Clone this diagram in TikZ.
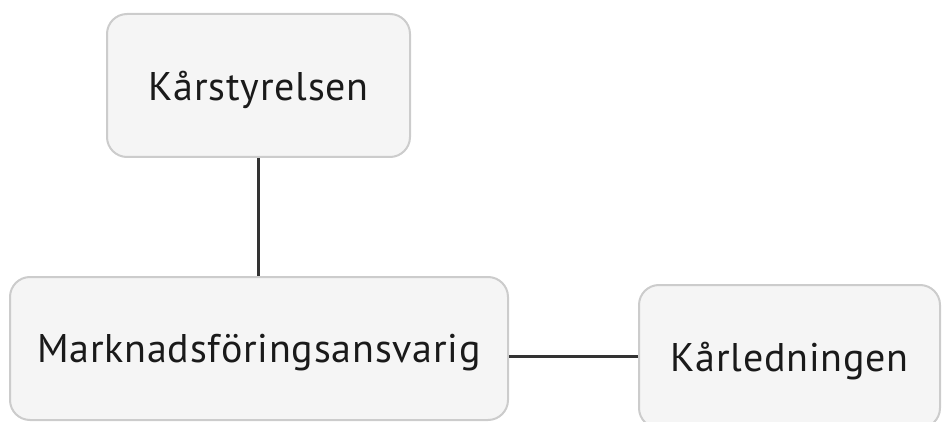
\documentclass[tikz,border=0pt]{standalone}
\usepackage{fontspec}
\setmainfont{PT Sans}[LetterSpace=2]
\begin{document}
\begin{tikzpicture}[x=1pt,y=-1pt,
  box/.style={draw=boxline,fill=boxfill,line width=2pt,rounded corners=20pt,inner sep=0pt,
    font=\fontsize{40}{48}\selectfont,text=textcol,text depth=0pt},
  conn/.style={draw=conncol,line width=3pt}]
\definecolor{boxline}{HTML}{CCCCCC}
\definecolor{boxfill}{HTML}{F5F5F5}
\definecolor{conncol}{HTML}{333333}
\definecolor{textcol}{HTML}{1A1A1A}
\useasboundingbox (0,0) rectangle (942,422);
\node[box,minimum width=303pt,minimum height=143pt] (ks) at (258.5,85.5) {Kårstyrelsen};
\node[box,minimum width=498pt,minimum height=143pt] (ma) at (259,348.5) {Marknadsföringsansvarig};
\node[box,minimum width=301pt,minimum height=143pt] (kl) at (789.5,356.5) {Kårledningen};
\draw[conn] (ks.south) -- (ks.south |- ma.north);
\draw[conn] (kl.west) -- (kl.west -| ma.east);
\end{tikzpicture}
\end{document}
